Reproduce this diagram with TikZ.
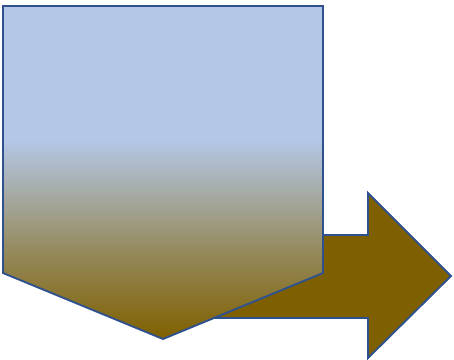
\documentclass[tikz,border=0pt]{standalone}
\usetikzlibrary{positioning}
\definecolor{edgeblue}{HTML}{2F528F}
\definecolor{skyblue}{HTML}{B4C7E7}
\definecolor{mudbrown}{HTML}{7F6000}
\definecolor{midgrey}{HTML}{A6ABA6}
\pgfdeclareverticalshading{skytomud}{100bp}{color(0bp)=(mudbrown); color(25bp)=(mudbrown); color(38bp)=(midgrey!55!mudbrown); color(47bp)=(midgrey); color(55bp)=(skyblue); color(100bp)=(skyblue)}
\begin{document}
\begin{tikzpicture}[x=1pt, y=-1pt, line width=1.9pt, line join=miter]
\useasboundingbox (0,0) rectangle (454,359);
% Arrow behind
\draw [edgeblue, fill=mudbrown] (200,235) -- (368,235) -- (368,193) -- (451,276) -- (368,358) -- (368,318) -- (200,318) -- cycle;
% Pentagon in front
\draw [edgeblue, shading=skytomud] (3,6) -- (323,6) -- (323,273) -- (163,339) -- (3,273) -- cycle;
\end{tikzpicture}
\end{document}
